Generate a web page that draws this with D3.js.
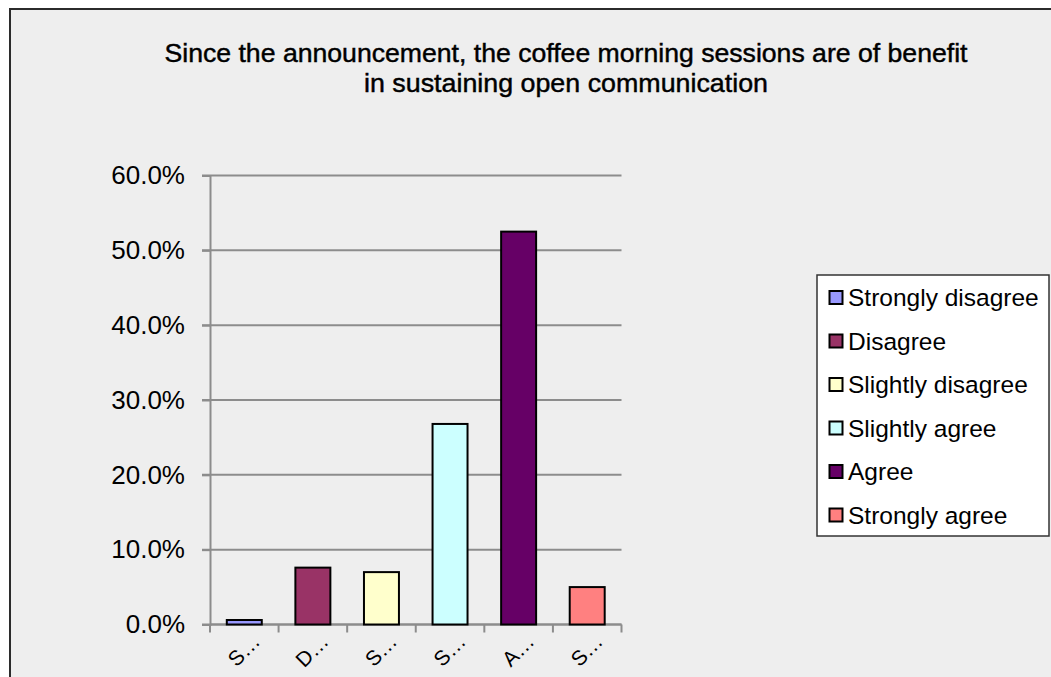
<!DOCTYPE html>
<html>
<head>
<meta charset="utf-8">
<script src="https://cdn.jsdelivr.net/npm/d3@7"></script>
<style>
  body { margin: 0; background: #fff; }
  text { font-family: "Liberation Sans", Arial, sans-serif; fill: #000; }
</style>
</head>
<body>
<script>
// data
var categories = ["Strongly disagree", "Disagree", "Slightly disagree", "Slightly agree", "Agree", "Strongly agree"];
var values = [0.006, 0.076, 0.070, 0.268, 0.525, 0.050];
var colors = ["#9999ff", "#993366", "#ffffcc", "#ccffff", "#660066", "#ff8080"];
var yTicks = [0, 0.1, 0.2, 0.3, 0.4, 0.5, 0.6];
var titleLines = ["Since the announcement, the coffee morning sessions are of benefit",
                  "in sustaining open communication"];

var width = 1051, height = 677;

var svg = d3.select("body").append("svg")
  .attr("width", width)
  .attr("height", height);

// chart area background + frame
svg.append("rect")
  .attr("x", 10).attr("y", 9)
  .attr("width", width + 20).attr("height", height + 20)
  .attr("fill", "#eeeeee")
  .attr("stroke", "#2b2b2b")
  .attr("stroke-width", 2);

// title (condensed look -> squeeze with textLength)
var titleLens = [803, 404];
svg.append("g").selectAll("text")
  .data(titleLines)
  .enter().append("text")
    .attr("x", 566)
    .attr("y", function(d, i) { return 62 + i * 30; })
    .attr("text-anchor", "middle")
    .attr("font-size", 26.5)
    .attr("stroke", "#000")
    .attr("stroke-width", 0.45)
    .attr("textLength", function(d, i) { return titleLens[i]; })
    .attr("lengthAdjust", "spacingAndGlyphs")
    .text(function(d) { return d; });

/* scales */
var x = d3.scaleBand()
  .domain(categories)
  .range([210, 621.5])
  .paddingInner(0.49)
  .paddingOuter(0.245);

var xOuter = d3.scaleBand().domain(categories).range([210, 621.5]);

var y = d3.scaleLinear()
  .domain([0, 0.6])
  .range([624.5, 175.5]);

// gridlines
svg.append("g")
  .selectAll("line")
  .data(yTicks)
  .enter().append("line")
    .attr("x1", 202).attr("x2", 621.5)
    .attr("y1", function(d) { return y(d); })
    .attr("y2", function(d) { return y(d); })
    .attr("stroke", "#8c8c8c")
    .attr("stroke-width", 2);

// y axis
var yAxis = svg.append("g")
  .attr("transform", "translate(210,0)")
  .call(d3.axisLeft(y).tickValues(yTicks).tickFormat(d3.format(".1%")).tickSize(8).tickPadding(17));
yAxis.select(".domain").attr("stroke", "#8c8c8c").attr("stroke-width", 2);
yAxis.selectAll(".tick line").attr("stroke", "#8c8c8c").attr("stroke-width", 2);
yAxis.selectAll(".tick text")
  .attr("font-family", "Liberation Sans, Arial, sans-serif")
  .attr("font-size", 26)
  .attr("fill", "#000");

// x axis line + ticks between categories
var xTickPos = categories.map(function(c) { return xOuter(c); }).concat([621.5]);
svg.append("line")
  .attr("x1", 210).attr("x2", 621.5)
  .attr("y1", y(0)).attr("y2", y(0))
  .attr("stroke", "#8c8c8c").attr("stroke-width", 2);
svg.append("g").selectAll("line")
  .data(xTickPos)
  .enter().append("line")
    .attr("x1", function(d) { return d; })
    .attr("x2", function(d) { return d; })
    .attr("y1", y(0)).attr("y2", y(0) + 8)
    .attr("stroke", "#8c8c8c").attr("stroke-width", 2);

// bars
svg.append("g")
  .selectAll("rect")
  .data(values)
  .enter().append("rect")
    .attr("x", function(d, i) { return x(categories[i]); })
    .attr("y", function(d) { return y(d); })
    .attr("width", x.bandwidth())
    .attr("height", function(d) { return y(0) - y(d); })
    .attr("fill", function(d, i) { return colors[i]; })
    .attr("stroke", "#000")
    .attr("stroke-width", 2);

// truncated rotated category labels
svg.append("g")
  .selectAll("text")
  .data(categories)
  .enter().append("text")
    .attr("transform", function(d) {
      var cx = xOuter(d) + xOuter.bandwidth() / 2;
      return "translate(" + (cx + 17) + "," + 643 + ") rotate(-45)";
    })
    .attr("text-anchor", "end")
    .attr("font-size", 21)
    .text(function(d) { return d.charAt(0) + "\u2026"; });

// legend
var legend = svg.append("g");
legend.append("rect")
  .attr("x", 817).attr("y", 275)
  .attr("width", 232).attr("height", 261)
  .attr("fill", "#fff")
  .attr("stroke", "#333")
  .attr("stroke-width", 1.5);

var item = legend.selectAll("g.item")
  .data(categories)
  .enter().append("g")
    .attr("class", "item")
    .attr("transform", function(d, i) { return "translate(829.5," + (297.5 + i * 43.5) + ")"; });

item.append("rect")
  .attr("x", 0).attr("y", -6.5)
  .attr("width", 13).attr("height", 13)
  .attr("fill", function(d, i) { return colors[i]; })
  .attr("stroke", "#000")
  .attr("stroke-width", 2);

item.append("text")
  .attr("x", 18.5)
  .attr("dy", "0.36em")
  .attr("font-size", 24.5)
  .text(function(d) { return d; });
</script>
</body>
</html>
